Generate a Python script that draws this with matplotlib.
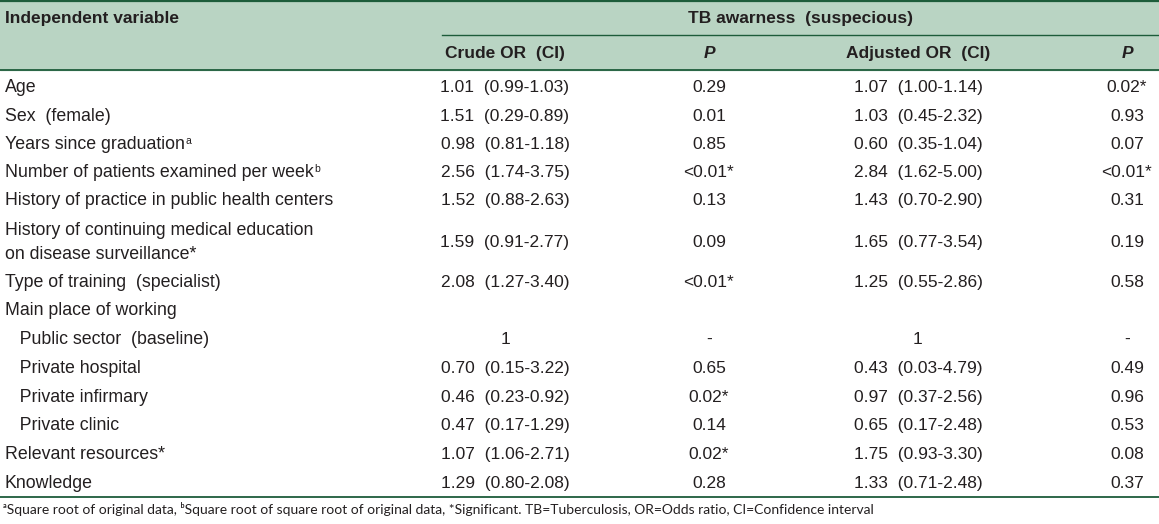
import matplotlib
matplotlib.use('Agg')
import matplotlib.pyplot as plt

# Table contents
variables = ['Age', 'Sex  (female)', 'Years since graduation', 'Number of patients examined per week',
             'History of practice in public health centers',
             'History of continuing medical education\non disease surveillance*',
             'Type of training  (specialist)', 'Main place of working',
             '   Public sector  (baseline)', '   Private hospital', '   Private infirmary',
             '   Private clinic', 'Relevant resources*', 'Knowledge']
var_sup = ['', '', 'a', 'b', '', '', '', '', '', '', '', '', '', '']
crude_or = ['1.01  (0.99-1.03)', '1.51  (0.29-0.89)', '0.98  (0.81-1.18)', '2.56  (1.74-3.75)',
            '1.52  (0.88-2.63)', '1.59  (0.91-2.77)', '2.08  (1.27-3.40)', '',
            '1', '0.70  (0.15-3.22)', '0.46  (0.23-0.92)', '0.47  (0.17-1.29)',
            '1.07  (1.06-2.71)', '1.29  (0.80-2.08)']
crude_p = ['0.29', '0.01', '0.85', '<0.01*', '0.13', '0.09', '<0.01*', '',
           '-', '0.65', '0.02*', '0.14', '0.02*', '0.28']
adj_or = ['1.07  (1.00-1.14)', '1.03  (0.45-2.32)', '0.60  (0.35-1.04)', '2.84  (1.62-5.00)',
          '1.43  (0.70-2.90)', '1.65  (0.77-3.54)', '1.25  (0.55-2.86)', '',
          '1', '0.43  (0.03-4.79)', '0.97  (0.37-2.56)', '0.65  (0.17-2.48)',
          '1.75  (0.93-3.30)', '1.33  (0.71-2.48)']
adj_p = ['0.02*', '0.93', '0.07', '<0.01*', '0.31', '0.19', '0.58', '',
         '-', '0.49', '0.96', '0.53', '0.08', '0.37']
row_y = [92, 121, 149, 177, 205, 247, 287, 315, 344, 373, 402, 430, 459, 488]

header_main = 'Independent variable'
header_group = 'TB awarness  (suspecious)'
col_headers = ['Crude OR  (CI)', 'P', 'Adjusted OR  (CI)', 'P']
col_x = [505, 709, 918, 1127]
footnote = ('\u1d43Square root of original data, \u1d47Square root of square root of original data, '
            '*Significant. TB=Tuberculosis, OR=Odds ratio, CI=Confidence interval')

fam = ['Liberation Sans', 'DejaVu Sans']

green = '#1d5c3a'
head_bg = '#b9d4c3'
txt = '#231f20'
fs = 12.5
va = 'baseline'

fig = plt.figure(figsize=(11.59, 5.24), dpi=100)
ax = fig.add_axes([0, 0, 1, 1])
ax.set_xlim(0, 1159)
ax.set_ylim(524, 0)
ax.axis('off')

# header background and rules
ax.axhspan(0, 70, color=head_bg, zorder=0)
ax.axhline(0.8, color=green, lw=1.6)
ax.axhline(70, color=green, lw=1.3)
ax.plot([442, 1159], [35, 35], color=green, lw=1.0)
ax.axhline(497, color=green, lw=1.3)

ax.text(5, 23, header_main, fontsize=fs, fontweight='bold', family=fam, color=txt, va=va)
ax.text(800, 23, header_group, fontsize=fs, fontweight='bold', family=fam, color=txt,
        va=va, ha='center')
for x, h in zip(col_x, col_headers):
    style = 'italic' if h == 'P' else 'normal'
    ax.text(x, 58, h, fontsize=fs, fontweight='bold', style=style, family=fam, color=txt,
            va=va, ha='center')

fig.canvas.draw()
renderer = fig.canvas.get_renderer()
for i, y in enumerate(row_y):
    lines = variables[i].split('\n')
    y0 = y - 12 * (len(lines) - 1)
    for k, line in enumerate(lines):
        t = ax.text(5, y0 + 24 * k, line, fontsize=12.8, family=fam, color=txt, va=va)
    if var_sup[i]:
        bb = t.get_window_extent(renderer)
        x_end = ax.transData.inverted().transform((bb.x1, bb.y0))[0]
        ax.text(x_end + 1, y - 5, var_sup[i], fontsize=7.5, family=fam, color=txt, va=va)
    for x, col in zip(col_x, [crude_or, crude_p, adj_or, adj_p]):
        ax.text(x, y, col[i], fontsize=fs, family=fam, color=txt, va=va, ha='center')

ax.text(3, 514, footnote, fontsize=10.0, family=['Lato', 'DejaVu Sans'], color=txt, va=va)

fig.savefig('out.png', dpi=100)
